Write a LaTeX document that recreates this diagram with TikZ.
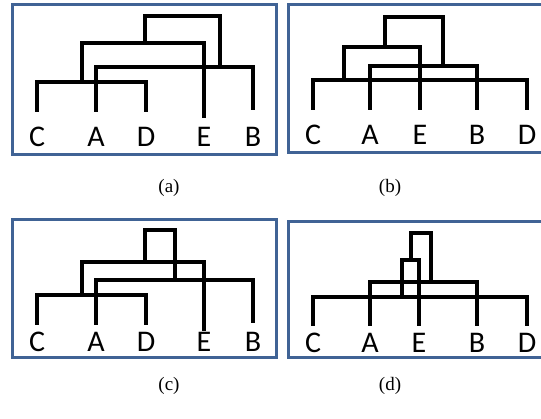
\documentclass[tikz,border=0pt]{standalone}
\usepackage{fontspec}
\setmainfont{Liberation Serif}
\newfontfamily\leaffont{Carlito}
\definecolor{framecol}{RGB}{64,99,149}
\tikzset{
  link/.style={line width=4pt, line join=miter},
  frame/.style={draw=framecol, line width=3pt},
  leaf/.style={anchor=base, inner sep=0pt, font=\leaffont\fontsize{30}{32}\selectfont},
  sublabel/.style={inner sep=0pt, font=\fontsize{19}{21}\selectfont}
}
\begin{document}
\begin{tikzpicture}[x=1pt, y=-1pt]
  \useasboundingbox (0,0) rectangle (541,419);
  % frames
  \draw[frame] (12,5) rectangle (276,155);
  \draw[frame] (288,5) rectangle (546,153);
  \draw[frame] (12,220) rectangle (276,358);
  \draw[frame] (288,222) rectangle (546,358);

  % (a): C A D E B
  \coordinate (a-c) at (37,112);
  \coordinate (a-a) at (96,112);
  \coordinate (a-d) at (146,112);
  \coordinate (a-e) at (204,118);
  \coordinate (a-b) at (253,110);
  \coordinate (a-cd) at (82,82);
  \coordinate (a-cde) at (145,43);
  \coordinate (a-ab) at (220,67);
  \coordinate (a-top) at (182,16);
  \draw[link] (a-c) |- (a-cd) -| (a-d);
  \draw[link] (a-a) |- (a-ab) -| (a-b);
  \draw[link] (a-cd) |- (a-cde) -| (a-e);
  \draw[link] (a-cde) |- (a-top) -| (a-ab);
  \foreach \n/\x in {C/37, A/96, D/146, E/204, B/253}
    \node[leaf] (a-lab\n) at (\x,147) {\n};
  \node[sublabel] (cap-a) at (169,188) {(a)};

  % (b): C A E B D
  \coordinate (b-c) at (313,110);
  \coordinate (b-a) at (370,110);
  \coordinate (b-e) at (420,110);
  \coordinate (b-b) at (477,110);
  \coordinate (b-d) at (527,110);
  \coordinate (b-cd) at (344,80);
  \coordinate (b-cde) at (385,47);
  \coordinate (b-ab) at (443,66);
  \coordinate (b-top) at (414,17);
  \draw[link] (b-c) |- (b-cd) -| (b-d);
  \draw[link] (b-a) |- (b-ab) -| (b-b);
  \draw[link] (b-cd) |- (b-cde) -| (b-e);
  \draw[link] (b-cde) |- (b-top) -| (b-ab);
  \foreach \n/\x in {C/313, A/370, E/420, B/477, D/527}
    \node[leaf] (b-lab\n) at (\x,145) {\n};
  \node[sublabel] (cap-b) at (390,188) {(b)};

  % (c): same leaves as (a), top link much shorter
  \coordinate (c-c) at (37,325);
  \coordinate (c-a) at (96,325);
  \coordinate (c-d) at (146,325);
  \coordinate (c-e) at (204,331);
  \coordinate (c-b) at (253,323);
  \coordinate (c-cd) at (82,295);
  \coordinate (c-cde) at (145,262);
  \coordinate (c-ab) at (175,280);
  \coordinate (c-top) at (160,230);
  \draw[link] (c-c) |- (c-cd) -| (c-d);
  \draw[link] (c-a) |- (c-ab) -| (c-b);
  \draw[link] (c-cd) |- (c-cde) -| (c-e);
  \draw[link] (c-cde) |- (c-top) -| (c-ab);
  \foreach \n/\x in {C/37, A/96, D/146, E/204, B/253}
    \node[leaf] (c-lab\n) at (\x,352) {\n};
  \node[sublabel] (cap-c) at (169,386) {(c)};

  % (d): same leaves as (b), squeezed upper links
  \coordinate (d-c) at (313,326);
  \coordinate (d-a) at (370,326);
  \coordinate (d-e) at (419,326);
  \coordinate (d-b) at (477,326);
  \coordinate (d-d) at (527,326);
  \coordinate (d-cd) at (402,297);
  \coordinate (d-cde) at (411,260);
  \coordinate (d-ab) at (431,282);
  \coordinate (d-top) at (421,233);
  \draw[link] (d-c) |- (d-cd) -| (d-d);
  \draw[link] (d-a) |- (d-ab) -| (d-b);
  \draw[link] (d-cd) |- (d-cde) -| (d-e);
  \draw[link] (d-cde) |- (d-top) -| (d-ab);
  \foreach \n/\x in {C/313, A/370, E/419, B/477, D/527}
    \node[leaf] (d-lab\n) at (\x,353) {\n};
  \node[sublabel] (cap-d) at (390,386) {(d)};
\end{tikzpicture}
\end{document}
